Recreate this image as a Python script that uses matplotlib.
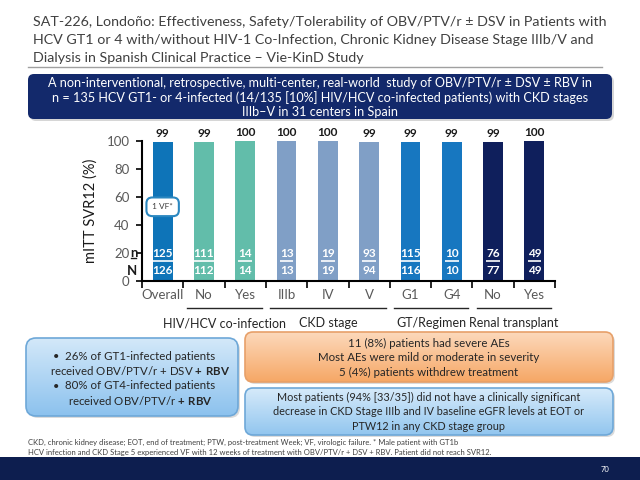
import matplotlib
matplotlib.use('Agg')
import matplotlib.pyplot as plt
import matplotlib.colors as mcolors
from matplotlib.patches import FancyBboxPatch, Rectangle
import numpy as np

plt.rcParams['font.family'] = ['Lato', 'DejaVu Sans']
plt.rcParams['mathtext.fontset'] = 'custom'
plt.rcParams['mathtext.rm'] = 'Lato'
plt.rcParams['mathtext.bf'] = 'Lato:bold'

# chart data
categories = ['Overall', 'No', 'Yes', 'IIIb', 'IV', 'V', 'G1', 'G4', 'No', 'Yes']
svr12 = [99, 99, 100, 100, 100, 99, 99, 99, 99, 100]
n_svr = [125, 111, 14, 13, 19, 93, 115, 10, 76, 49]
n_total = [126, 112, 14, 13, 19, 94, 116, 10, 77, 49]
bar_colors = ['#0e74b8', '#62bdaa', '#62bdaa', '#809fc6', '#809fc6', '#809fc6',
              '#1777c0', '#1777c0', '#0f1f5c', '#0f1f5c']
groups = ['HIV/HCV co-infection', 'CKD stage', 'GT/Regimen', 'Renal transplant']
group_span = [(1, 2), (3, 5), (6, 7), (8, 9)]

title_lines = [
    'SAT-226, Londoño: Effectiveness, Safety/Tolerability of OBV/PTV/r ± DSV in Patients with',
    'HCV GT1 or 4 with/without HIV-1 Co-Infection, Chronic Kidney Disease Stage IIIb/V and',
    'Dialysis in Spanish Clinical Practice – Vie-KinD Study',
]
banner_lines = [
    'A non-interventional, retrospective, multi-center, real-world  study of OBV/PTV/r ± DSV ± RBV in',
    'n = 135 HCV GT1- or 4-infected (14/135 [10%] HIV/HCV co-infected patients) with CKD stages',
    'IIIb–V in 31 centers in Spain',
]
left_lines = [
    '26% of GT1-infected patients',
    r'received OBV/PTV/r + DSV $\mathbf{+\ RBV}$',
    '80% of GT4-infected patients',
    r'received OBV/PTV/r $\mathbf{+\ RBV}$',
]
ae_lines = [
    '11 (8%) patients had severe AEs',
    'Most AEs were mild or moderate in severity',
    '5 (4%) patients withdrew treatment',
]
egfr_lines = [
    'Most patients (94% [33/35]) did not have a clinically significant',
    'decrease in CKD Stage IIIb and IV baseline eGFR levels at EOT or',
    'PTW12 in any CKD stage group',
]
foot_lines = [
    'CKD, chronic kidney disease; EOT, end of treatment; PTW, post-treatment Week; VF, virologic failure. * Male patient with GT1b',
    'HCV infection and CKD Stage 5 experienced VF with 12 weeks of treatment with OBV/PTV/r + DSV + RBV. Patient did not reach SVR12.',
]

fig = plt.figure(figsize=(6.4, 4.8), dpi=100)
bg = fig.add_axes([0, 0, 1, 1])
bg.axis('off')


def grad_box(x, y, w, h, top, bottom, edge, r=8):
    sh = FancyBboxPatch((x + 2, y + 2), w, h, boxstyle=f'round,pad=0,rounding_size={r}',
                        fc='#9a9a9a', ec='none', alpha=0.35, zorder=1)
    bg.add_patch(sh)
    patch = FancyBboxPatch((x, y), w, h, boxstyle=f'round,pad=0,rounding_size={r}',
                           fc='none', ec=edge, lw=1.2, zorder=3)
    bg.add_patch(patch)
    c = np.linspace(0, 1, 64)[:, None, None]
    img = np.array(mcolors.to_rgb(top)) * (1 - c) + np.array(mcolors.to_rgb(bottom)) * c
    im = bg.imshow(img, extent=(x, x + w, y + h, y), origin='upper', aspect='auto',
                   interpolation='bilinear', zorder=2)
    im.set_clip_path(patch)


# title + rule
for i, line in enumerate(title_lines):
    bg.text(33, 22.5 + i * 18, line, fontsize=10.3, color='#404040', va='center')
bg.plot([28, 602], [67, 67], color='#a0a0a0', lw=1)

# banner
bg.add_patch(FancyBboxPatch((30, 76), 584, 45, boxstyle='round,pad=0,rounding_size=6',
                            fc='#9a9a9a', ec='none', alpha=0.4, zorder=1))
bg.add_patch(FancyBboxPatch((28, 74), 584, 45, boxstyle='round,pad=0,rounding_size=6',
                            fc='#13296b', ec='none', zorder=2))
for i, line in enumerate(banner_lines):
    bg.text(320, 83 + i * 14.5, line, fontsize=9.1, color='white', ha='center', va='center', zorder=3)

# bottom boxes
grad_box(26, 338, 212, 78, '#d3e8f9', '#8cc2ee', '#6ea8d8', r=10)
bg.text(53, 356, '•', fontsize=8, color='#262626', va='center', zorder=4)
bg.text(53, 386, '•', fontsize=8, color='#262626', va='center', zorder=4)
for i, line in enumerate(left_lines):
    bg.text(140, 356 + i * 14.8, line, fontsize=8.3, color='#262626', ha='center', va='center', zorder=4)

grad_box(245, 332, 368, 50, '#fcd9bb', '#f6a766', '#e7a069', r=8)
for i, line in enumerate(ae_lines):
    bg.text(429, 343 + i * 14.8, line, fontsize=8.3, color='#262626', ha='center', va='center', zorder=4)

grad_box(245, 388, 368, 47, '#d6eafa', '#92c6ef', '#6ea8d8', r=8)
for i, line in enumerate(egfr_lines):
    bg.text(429, 397 + i * 14.5, line, fontsize=7.8, color='#262626', ha='center', va='center', zorder=4)

for i, line in enumerate(foot_lines):
    bg.text(28, 442 + i * 10, line, fontsize=5.5, color='#404040', va='center')

bg.add_patch(Rectangle((0, 457), 640, 23, fc='#0d1e4f', ec='none', zorder=2))
bg.text(605, 469, '70', fontsize=5.5, color='white', ha='center', va='center', zorder=3)

bg.set_xlim(0, 640)
bg.set_ylim(480, 0)

# bar chart
ax = fig.add_axes([142 / 640, 199 / 480, 413 / 640, 140 / 480])
ax.patch.set_alpha(0)
x = np.arange(len(categories))
ax.bar(x, svr12, width=0.48, color=bar_colors, zorder=2)
ax.set_xlim(-0.5, 9.5)
ax.set_ylim(0, 100)
ax.set_yticks(range(0, 101, 20))
for s in ['top', 'right']:
    ax.spines[s].set_visible(False)
for s in ['left', 'bottom']:
    ax.spines[s].set_linewidth(1.5)
ax.tick_params(axis='y', direction='out', length=4, width=1.2, labelsize=9.5,
               labelcolor='#595959', pad=5)
ax.set_xticks(x, categories)
ax.tick_params(axis='x', which='major', length=0, labelsize=9.5, labelcolor='#595959', pad=6)
ax.set_xticks(np.arange(-0.5, 9.6, 1), minor=True)
ax.tick_params(axis='x', which='minor', direction='out', length=5, width=1.2)
ax.set_ylabel('mITT SVR12 (%)', fontsize=10.5, color='#1a1a1a', labelpad=6)

for xi, v in zip(x, svr12):
    ax.annotate(str(v), (xi, v), xytext=(0, 2.5), textcoords='offset points', ha='center',
                va='bottom', fontsize=8.5, fontweight='bold', color='#1a1a1a', annotation_clip=False)

n_texts = []
for xi, a, b in zip(x, n_svr, n_total):
    n_texts.append(ax.text(xi, 19.5, str(a), ha='center', va='center', color='white',
                           fontsize=8.5, fontweight='bold', zorder=3))
    ax.text(xi, 7.5, str(b), ha='center', va='center', color='white',
            fontsize=8.5, fontweight='bold', zorder=3)

ytr = ax.get_yaxis_transform()
n_lab = ax.text(-0.02, 20, 'n', transform=ytr, ha='center', va='center', fontsize=9.5,
                fontweight='bold', color='#1a1a1a', clip_on=False)
ax.text(-0.025, 7, 'N', transform=ytr, ha='center', va='center', fontsize=9.5,
        fontweight='bold', color='#1a1a1a', clip_on=False)

# "1 VF*" call-out on the overall bar
ax.text(0, 53, '1 VF*', ha='center', va='center', fontsize=6, color='#404040', zorder=4,
        bbox=dict(boxstyle='round,pad=0.7,rounding_size=0.7', fc='white', ec='#2a87c0', lw=1.5))

# group brackets
xtr = ax.get_xaxis_transform()
for g, (a, b) in zip(groups, group_span):
    ax.plot([a - 0.4, b + 0.4], [-0.19, -0.19], transform=xtr, clip_on=False,
            color='#262626', lw=1)
    ax.text((a + b) / 2, -0.30, g, transform=xtr, ha='center', va='center', fontsize=9,
            color='#262626')

# underline the responder counts
fig.canvas.draw()
inv = ax.transData.inverted()
for t in n_texts:
    bb = t.get_window_extent()
    (x0, _), (x1, _) = inv.transform([(bb.x0, 0), (bb.x1, 0)])
    ax.plot([x0, x1], [14.3, 14.3], color='white', lw=1.2, zorder=3, solid_capstyle='butt')
bb = n_lab.get_window_extent()
fx = bg.transData.inverted().transform([(bb.x0 + 1, bb.y0), (bb.x1 - 1, bb.y0)])
bg.plot(fx[:, 0], [fx[0, 1] - 1.5, fx[0, 1] - 1.5], color='#1a1a1a', lw=1)

fig.savefig('out.png', dpi=100)
